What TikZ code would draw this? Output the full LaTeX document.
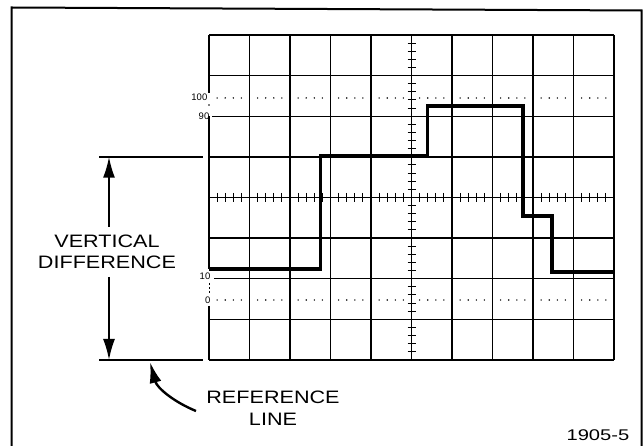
\documentclass[tikz,border=0pt]{standalone}
\usepackage{fontspec}
\setmainfont{Liberation Sans}
\newfontfamily\labfont[FakeStretch=1.2]{Liberation Sans}
\newfontfamily\numfont[FakeStretch=1.3]{Liberation Sans}
\usetikzlibrary{arrows.meta}
\begin{document}
\begin{tikzpicture}[x=1pt,y=-1pt,
  gridline/.style={line width=1.3pt},
  tickline/.style={line width=1pt},
  traceline/.style={line width=3.6pt, line join=miter, line cap=butt},
  dimline/.style={line width=2pt},
  framel/.style={line width=2pt},
  arrowhd/.style={-{Latex[length=21pt,width=12pt]}},
  bigtext/.style={font=\labfont\fontsize{18}{21}\selectfont, inner sep=0pt},
  numtext/.style={font=\numfont\fontsize{15.5}{18}\selectfont, inner sep=0pt},
  scaletext/.style={font=\fontsize{9.5}{10}\selectfont, inner sep=0pt}]
\useasboundingbox (0,0) rectangle (643,446);
\fill[white] (0,0) rectangle (643,446);
% outer frame
\draw[framel] (11.7,470) -- (11.7,7.5) -- (641.5,10.5) -- (641.5,470);
% grid vertical lines
\foreach \i in {1,...,10}
  \draw[gridline] ({209+40.5*\i},35) -- ({209+40.5*\i},360);
% left border with gaps
\draw[gridline] (209,35) -- (209,93);
\fill (209,105) circle (0.8);
\draw[gridline] (209,116.25) -- (209,269);
\draw[tickline, dash pattern=on 2pt off 2pt] (209,283) -- (209,294);
\draw[gridline] (209,306) -- (209,360);
% grid horizontal lines
\foreach \j in {0,1,3,4,5,7,8}
  \draw[gridline] (209,{35+40.625*\j}) -- (614,{35+40.625*\j});
\draw[gridline] (212,116.25) -- (614,116.25);
\draw[gridline] (214,278.75) -- (614,278.75);
% center ticks
\foreach \k in {1,...,49}
  \draw[tickline] ({209+8.1*\k},193) -- ({209+8.1*\k},202);
\foreach \k in {1,...,39}
  \draw[tickline] (407.5,{35+8.125*\k}) -- (415.5,{35+8.125*\k});
% dotted 0% and 100% lines
\foreach \d in {0,...,9}
  \foreach \m in {1,2,3,4} {
    \fill ({209+40.5*\d+8.1*\m},98) circle (0.8);
    \fill ({209+40.5*\d+8.1*\m},300) circle (0.8);
  }
% scale labels
\node[scaletext, anchor=east] (l100) at (207.5,97.5) {100};
\node[scaletext, anchor=east] (l90) at (209.5,116) {90};
\node[scaletext, anchor=east] (l10) at (210.5,276.5) {10};
\node[scaletext, anchor=east] (l0) at (210.5,300) {0};
% trace
\draw[traceline] (209,269) -- (320.5,269) -- (320.5,156) -- (427.5,156) -- (427.5,106)
  -- (523,106) -- (523,216) -- (552,216) -- (552,272) -- (614,272);
% dimension lines
\coordinate (dtl) at (99,156.7);
\coordinate (dtr) at (203,156.7);
\coordinate (dbl) at (99,360);
\coordinate (dbr) at (203,360);
\coordinate (dimtop) at (109,156.7);
\coordinate (dimbot) at (109,360);
\coordinate (vdtop) at (109,227);
\coordinate (vdbot) at (109,277);
\draw[dimline] (dtl) -- (dtr);
\draw[dimline] (dbl) -- (dbr);
\draw[dimline, arrowhd] (vdtop) -- (dimtop);
\draw[dimline, arrowhd] (vdbot) -- (dimbot);
\node[bigtext, anchor=base] (vd1) at (107,248) {VERTICAL};
\node[bigtext, anchor=base] (vd2) at (107,269) {DIFFERENCE};
% reference label and curved arrow
\node[bigtext, anchor=base] (ref1) at (273,404) {REFERENCE};
\node[bigtext, anchor=base] (ref2) at (273,425) {LINE};
\coordinate (reftail) at (196,411);
\coordinate (reftip) at (150,362);
\draw[line width=2.4pt, arrowhd] (reftail) .. controls (174,402) and (157,388) .. (reftip);
% figure number
\node[numtext, anchor=base east] (fig) at (629.5,440) {1905-5};
\end{tikzpicture}
\end{document}
